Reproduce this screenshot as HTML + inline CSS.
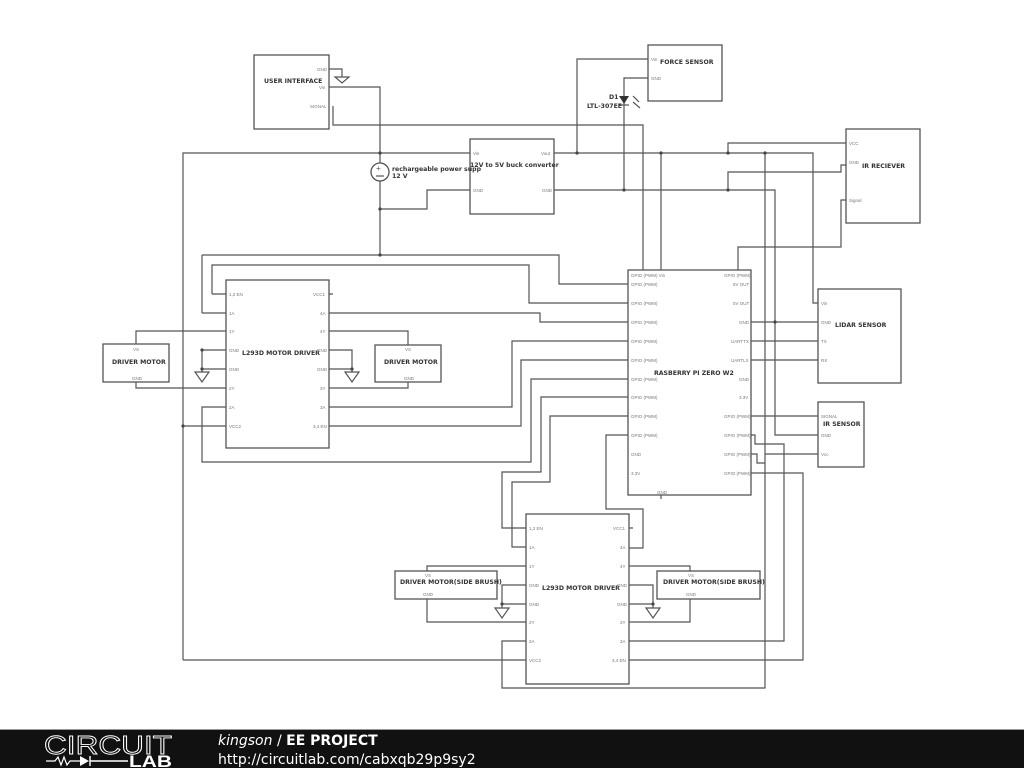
<!DOCTYPE html>
<html><head><meta charset="utf-8"><style>
html,body{margin:0;padding:0;background:#fff;width:1024px;height:768px;overflow:hidden}
svg{display:block}
.w{fill:none;stroke:#555;stroke-width:1.2}
.b{fill:#fff;stroke:#555;stroke-width:1.3}
.p{font:4.5px "Liberation Sans",sans-serif;fill:#777}
.t{font:bold 6.2px "DejaVu Sans","Liberation Sans",sans-serif;fill:#333}
</style></head><body>
<svg width="1024" height="768" viewBox="0 0 1024 768">
<rect width="1024" height="730" fill="#fff"/>
<rect class="b" x="254" y="55" width="75" height="74"/>
<text class="t" x="264" y="83">USER INTERFACE</text>
<text class="p" x="317" y="71">GND</text><text class="p" x="319" y="89">Vin</text><text class="p" x="310" y="108">SIGNAL</text>
<rect class="b" x="470" y="139" width="84" height="75"/>
<text class="t" x="470" y="167">12V to 5V buck converter</text>
<text class="p" x="473" y="155">Vin</text><text class="p" x="541" y="155">Vout</text><text class="p" x="473" y="192">GND</text><text class="p" x="542" y="192">GND</text>
<rect class="b" x="648" y="45" width="74" height="56"/>
<text class="t" x="660" y="64">FORCE SENSOR</text>
<text class="p" x="651" y="61">Vin</text><text class="p" x="651" y="80">GND</text>
<rect class="b" x="846" y="129" width="74" height="94"/>
<text class="t" x="862" y="168">IR RECIEVER</text>
<text class="p" x="849" y="145">VCC</text><text class="p" x="849" y="164">GND</text><text class="p" x="849" y="202">Signal</text>
<rect class="b" x="818" y="289" width="83" height="94"/>
<text class="t" x="835" y="327">LIDAR SENSOR</text>
<text class="p" x="821" y="305">Vin</text><text class="p" x="821" y="324">GND</text><text class="p" x="821" y="343">TX</text><text class="p" x="821" y="362">RX</text>
<rect class="b" x="818" y="402" width="46" height="65"/>
<text class="t" x="823" y="426">IR SENSOR</text>
<text class="p" x="821" y="418">SIGNAL</text><text class="p" x="821" y="437">GND</text><text class="p" x="821" y="456">Vcc</text>
<rect class="b" x="628" y="270" width="123" height="225"/>
<text class="t" x="654" y="375">RASBERRY PI ZERO W2</text>
<g class="p">
<text x="631" y="277">GPIO (PWM)  Vin</text><text x="724" y="277">GPIO (PWM)</text>
<text x="631" y="286">GPIO (PWM)</text><text x="733" y="286">5V OUT</text>
<text x="631" y="305">GPIO (PWM)</text><text x="733" y="305">5V OUT</text>
<text x="631" y="324">GPIO (PWM)</text><text x="739" y="324">GND</text>
<text x="631" y="343">GPIO (PWM)</text><text x="731" y="343">UARTTX</text>
<text x="631" y="362">GPIO (PWM)</text><text x="731" y="362">UARTLX</text>
<text x="631" y="381">GPIO (PWM)</text><text x="739" y="381">GND</text>
<text x="631" y="399">GPIO (PWM)</text><text x="739" y="399">3.3V</text>
<text x="631" y="418">GPIO (PWM)</text><text x="724" y="418">GPIO (PWM)</text>
<text x="631" y="437">GPIO (PWM)</text><text x="724" y="437">GPIO (PWM)</text>
<text x="631" y="456">GND</text><text x="724" y="456">GPIO (PWM)</text>
<text x="631" y="475">3.3V</text><text x="724" y="475">GPIO (PWM)</text>
<text x="657" y="494">GND</text>
</g>
<rect class="b" x="226" y="280" width="103" height="168"/>
<text class="t" x="242" y="355">L293D MOTOR DRIVER</text>
<g class="p">
<text x="229" y="296">1,2 EN</text><text x="313" y="296">VCC1</text>
<text x="229" y="315">1A</text><text x="320" y="315">4A</text>
<text x="229" y="333">1Y</text><text x="320" y="333">4Y</text>
<text x="229" y="352">GND</text><text x="317" y="352">GND</text>
<text x="229" y="371">GND</text><text x="317" y="371">GND</text>
<text x="229" y="390">2Y</text><text x="320" y="390">3Y</text>
<text x="229" y="409">2A</text><text x="320" y="409">3A</text>
<text x="229" y="428">VCC2</text><text x="313" y="428">3,4 EN</text>
</g>
<rect class="b" x="526" y="514" width="103" height="170"/>
<text class="t" x="542" y="590">L293D MOTOR DRIVER</text>
<g class="p">
<text x="529" y="530">1,2 EN</text><text x="613" y="530">VCC1</text>
<text x="529" y="549">1A</text><text x="620" y="549">4A</text>
<text x="529" y="568">1Y</text><text x="620" y="568">4Y</text>
<text x="529" y="587">GND</text><text x="617" y="587">GND</text>
<text x="529" y="606">GND</text><text x="617" y="606">GND</text>
<text x="529" y="624">2Y</text><text x="620" y="624">3Y</text>
<text x="529" y="643">2A</text><text x="620" y="643">3A</text>
<text x="529" y="662">VCC2</text><text x="612" y="662">3,4 EN</text>
</g>
<rect class="b" x="103" y="344" width="66" height="38"/><text class="t" x="112" y="364">DRIVER MOTOR</text>
<text class="p" x="133" y="351">VS</text><text class="p" x="132" y="380">GND</text>
<rect class="b" x="375" y="345" width="66" height="37"/><text class="t" x="384" y="364">DRIVER MOTOR</text>
<text class="p" x="405" y="351">VS</text><text class="p" x="404" y="380">GND</text>
<rect class="b" x="395" y="571" width="102" height="28"/><text class="t" x="400" y="584">DRIVER MOTOR(SIDE BRUSH)</text>
<text class="p" x="425" y="577">VS</text><text class="p" x="423" y="596">GND</text>
<rect class="b" x="657" y="571" width="103" height="28"/><text class="t" x="663" y="584">DRIVER MOTOR(SIDE BRUSH)</text>
<text class="p" x="688" y="577">VS</text><text class="p" x="686" y="596">GND</text>
<g class="w">
<path d="M329 69H342V77M329 87H380V163M380 181V255M333 106V125H643V270"/>
<path d="M183 660V153H470M380 209H427V190H470"/>
<path d="M202 313H226M202 255H559V284H628M212 294H226M212 294V265H529V303H628"/>
<path d="M202 313V255"/>
<path d="M554 153H813V303H818M554 190H775V435H818"/>
<path d="M577 153V59H648M624 190V78H648"/>
<path d="M661 153V270M728 153V143H846M728 190V172H841V165H846M738 270V247H841V200H846"/>
<path d="M751 322H818M751 341H818M751 360H818M751 416H818M765 153V688H502V641H526"/>
<path d="M765 454H818M751 435H755V444H784V641H629M751 454H757V463H765M751 473H803V660H629"/>
<path d="M136 344V331H226M136 382V388H226M202 350H226M202 350V372M202 369H226"/>
<path d="M226 407H202V462H531V379H628M183 426H226"/>
<path d="M329 313H540V322H628M329 407H512V341H628M329 426H521V360H628"/>
<path d="M329 331H408V345M329 388H408V382M329 350H352V372M329 369H352M329 294H333"/>
<path d="M628 397H541V472H502V528H526M628 416H550V482H512V547H526"/>
<path d="M628 435H606V509H643V548H629M629 528H633M661 495V499"/>
<path d="M526 566H427V571M427 599V622H526M526 585H502V608M526 604H502"/>
<path d="M629 566H690V571M690 599V622H629M629 585H653V608M629 604H653"/>
<path d="M183 660H526"/>
</g>
<g class="w">
<path d="M335 77H349L342 83Z M195 372H209L202 382Z M345 372H359L352 382Z M495 608H509L502 618Z M646 608H660L653 618Z" style="fill:#fff"/>
</g>
<g fill="#444">
<circle cx="380" cy="153" r="1.6"/><circle cx="380" cy="209" r="1.6"/><circle cx="380" cy="255" r="1.6"/>
<circle cx="577" cy="153" r="1.6"/><circle cx="661" cy="153" r="1.6"/><circle cx="728" cy="153" r="1.6"/><circle cx="765" cy="153" r="1.6"/>
<circle cx="624" cy="190" r="1.6"/><circle cx="728" cy="190" r="1.6"/><circle cx="775" cy="322" r="1.6"/>
<circle cx="202" cy="350" r="1.6"/><circle cx="202" cy="369" r="1.6"/><circle cx="352" cy="369" r="1.6"/><circle cx="183" cy="426" r="1.6"/>
<circle cx="502" cy="604" r="1.6"/><circle cx="653" cy="604" r="1.6"/>
</g>
<circle cx="380" cy="172" r="9" class="b"/>
<text x="376" y="171" font-size="8" fill="#555" font-family="Liberation Sans">+</text>
<path d="M376 176H384" class="w"/>
<text class="t" x="392" y="171" font-size="6">rechargeable power supp</text>
<text class="t" x="392" y="178">12 V</text>
<path d="M619 96H629L624 104Z" fill="#333"/><path d="M619 105H629" class="w"/>
<text class="t" x="609" y="99">D1</text><text class="t" x="587" y="108">LTL-307EE</text>
<path d="M633 96L639 102M633 102L640 108" class="w"/>
<rect x="0" y="729" width="1024" height="1" fill="#999"/>
<rect x="0" y="730" width="1024" height="38" fill="#111"/>
<text x="44" y="754" font-family="Liberation Sans" font-size="26" textLength="128" lengthAdjust="spacingAndGlyphs" fill="none" stroke="#fff" stroke-width="0.9">CIRCUIT</text>
<path d="M46 761H55L58 757L61 765L64 757L67 765L70 761H80" stroke="#fff" fill="none" stroke-width="1.2"/>
<path d="M80 756V766L89 761Z" fill="#fff"/><path d="M90 756V766M90 761H128" stroke="#fff" stroke-width="1.4"/>
<text x="129" y="767" font-family="Liberation Sans" font-weight="bold" font-size="17" textLength="43" lengthAdjust="spacingAndGlyphs" fill="#fff">LAB</text>
<text x="218" y="745" font-family="DejaVu Sans" font-size="14" fill="#fff"><tspan font-style="italic">kingson</tspan> / <tspan font-weight="bold">EE PROJECT</tspan></text>
<text x="218" y="764" font-family="DejaVu Sans" font-size="14" fill="#fff">http://circuitlab.com/cabxqb29p9sy2</text>
</svg>
</body></html>
